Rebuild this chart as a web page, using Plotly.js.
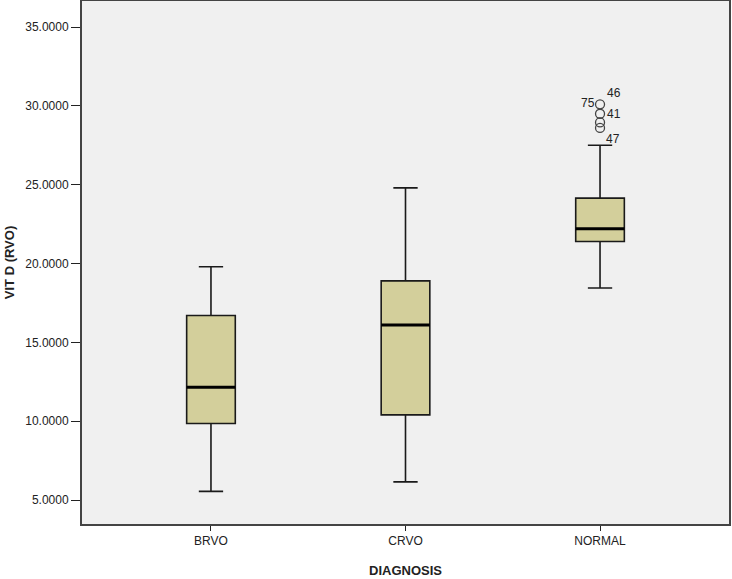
<!DOCTYPE html>
<html>
<head>
<meta charset="utf-8">
<script src="https://cdn.plot.ly/plotly-3.0.1.min.js"></script>
<style>
  html, body { margin: 0; padding: 0; background: #fff; }
  #box-plot { width: 732px; height: 579px; }
</style>
</head>
<body>
<div id="box-plot"></div>
<script>
const categories = ['BRVO', 'CRVO', 'NORMAL'];
const lowerWhisker = [5.55, 6.15, 18.45];
const q1 = [9.85, 10.4, 21.4];
const medians = [12.15, 16.1, 22.2];
const q3 = [16.7, 18.9, 24.15];
const upperWhisker = [19.8, 24.8, 27.5];

// outliers of NORMAL, top to bottom
const outlierValues = [30.1, 29.5, 28.95, 28.6];
// case labels: [text, value it sits beside, xshift, yshift]
const caseLabels = [
  ['46', 30.1, 14, 11],
  ['75', 30.1, -12, 1],
  ['41', 29.5, 14, 0],
  ['47', 27.5, 13, 6]
];

const boxWidth = 0.25;

const boxes = {
  type: 'box',
  x: categories,
  q1: q1,
  median: medians,
  q3: q3,
  lowerfence: lowerWhisker,
  upperfence: upperWhisker,
  width: boxWidth,
  whiskerwidth: 0.5,
  fillcolor: '#d3cf9b',
  line: { color: '#1a1a1a', width: 1.6 },
  boxpoints: false,
  hoverinfo: 'skip',
  showlegend: false
};

const outliers = {
  type: 'scatter',
  mode: 'markers',
  x: outlierValues.map(() => 'NORMAL'),
  y: outlierValues,
  marker: {
    symbol: 'circle-open',
    size: 9,
    color: '#444',
    line: { width: 1.3, color: '#444' }
  },
  hoverinfo: 'skip',
  showlegend: false
};

// thick median bars, as SPSS draws them
const medianShapes = medians.map((m, i) => ({
  type: 'line',
  xref: 'x',
  yref: 'y',
  x0: i - boxWidth / 2,
  x1: i + boxWidth / 2,
  y0: m,
  y1: m,
  line: { color: '#000', width: 3 }
}));

const labelNotes = caseLabels.map(c => ({
  x: 'NORMAL',
  y: c[1],
  text: c[0],
  showarrow: false,
  xshift: c[2],
  yshift: c[3],
  font: { family: 'Liberation Sans, Arial, sans-serif', size: 12, color: '#222' }
}));

const layout = {
  width: 732,
  height: 579,
  margin: { l: 82, r: 3, t: 1, b: 55 },
  paper_bgcolor: '#fff',
  plot_bgcolor: '#f0f0f0',
  font: { family: 'Liberation Sans, Arial, sans-serif', size: 12, color: '#222' },
  xaxis: {
    type: 'category',
    range: [-0.663, 2.663],
    showgrid: false,
    zeroline: false,
    showline: true,
    mirror: true,
    linecolor: '#444',
    linewidth: 2,
    ticks: 'outside',
    ticklen: 5,
    tickcolor: '#222',
    tickfont: { size: 12, color: '#222' },
    title: {
      text: '<b>DIAGNOSIS</b>',
      font: { size: 13, color: '#222' },
      standoff: 18
    }
  },
  yaxis: {
    range: [3.48, 36.65],
    tick0: 5,
    dtick: 5,
    tickformat: '.4f',
    showgrid: false,
    zeroline: false,
    showline: true,
    mirror: true,
    linecolor: '#444',
    linewidth: 2,
    ticks: 'outside',
    ticklen: 9,
    tickcolor: '#222',
    tickfont: { size: 12, color: '#222' },
    title: {
      text: '<b>VIT D (RVO)</b>',
      font: { size: 13, color: '#222' },
      standoff: 8
    }
  },
  shapes: medianShapes,
  annotations: labelNotes,
  showlegend: false
};

const config = { responsive: false, displayModeBar: false, staticPlot: true };

Plotly.newPlot('box-plot', [boxes, outliers], layout, config);
</script>
</body>
</html>
